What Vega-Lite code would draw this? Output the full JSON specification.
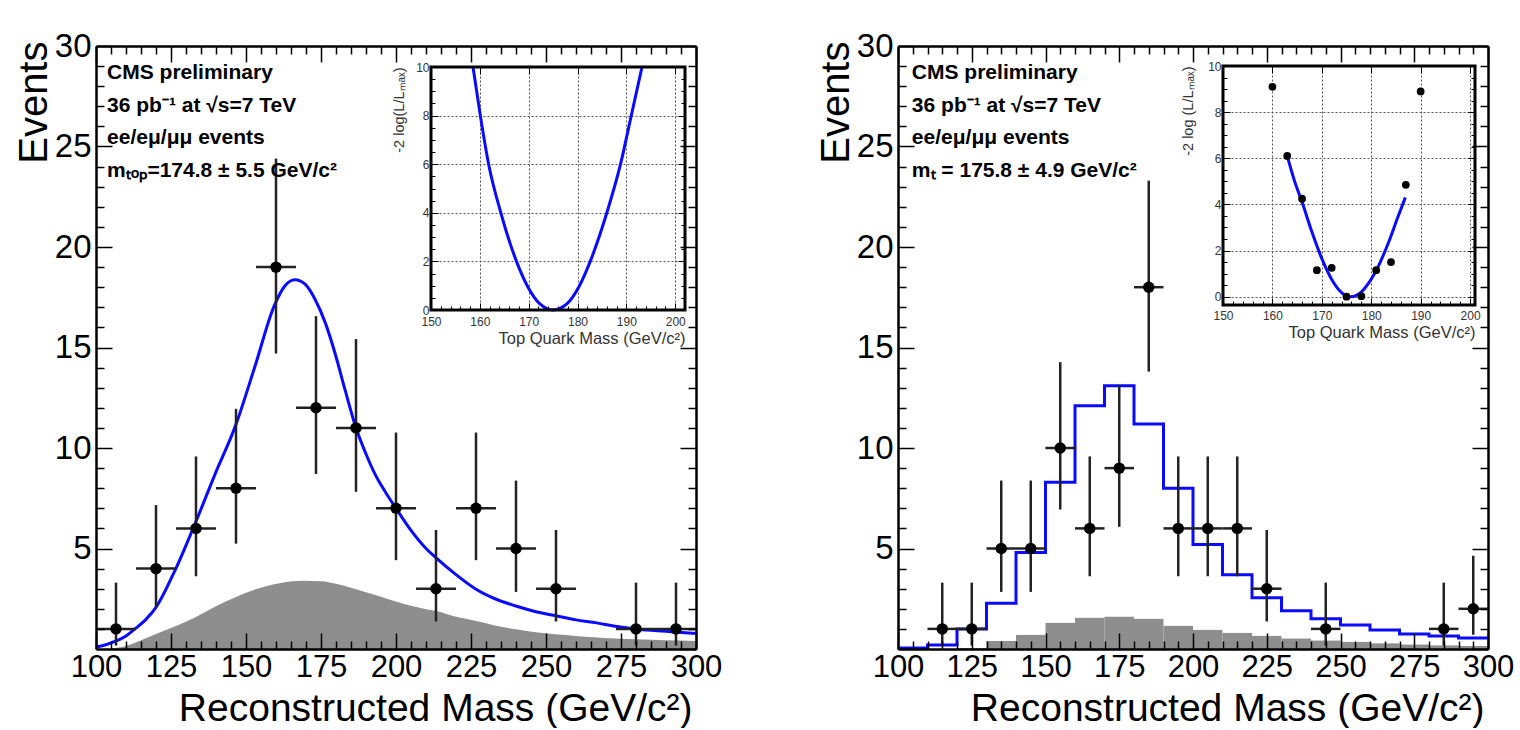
{
  "$schema": "https://vega.github.io/schema/vega-lite/v6.json",
  "background": "white",
  "padding": {"left": 14, "top": 30, "right": 5, "bottom": 0},
  "config": {
    "font": "Liberation Sans",
    "view": {"stroke": null},
    "axis": {
      "labelFont": "Liberation Sans",
      "labelColor": "black",
      "tickColor": "black",
      "domainColor": "black",
      "titleFont": "Liberation Sans",
      "titleFontWeight": "normal",
      "titleColor": "black",
      "grid": false,
      "labelOverlap": false,
      "labelFlush": false
    }
  },
  "datasets": {
    "ptsL": [
      {"m": 106.67, "x0": 100, "x1": 113.33, "n": 1, "lo": 0.17, "hi": 3.3},
      {"m": 120, "x0": 113.33, "x1": 126.67, "n": 4, "lo": 2.09, "hi": 7.16},
      {"m": 133.33, "x0": 126.67, "x1": 140, "n": 6, "lo": 3.62, "hi": 9.58},
      {"m": 146.67, "x0": 140, "x1": 153.33, "n": 8, "lo": 5.24, "hi": 11.95},
      {"m": 160, "x0": 153.33, "x1": 166.67, "n": 19, "lo": 14.7, "hi": 24.4},
      {"m": 173.33, "x0": 166.67, "x1": 180, "n": 12, "lo": 8.71, "hi": 16.56},
      {"m": 186.67, "x0": 180, "x1": 193.33, "n": 11, "lo": 7.82, "hi": 15.42},
      {"m": 200, "x0": 193.33, "x1": 206.67, "n": 7, "lo": 4.42, "hi": 10.77},
      {"m": 213.33, "x0": 206.67, "x1": 220, "n": 3, "lo": 1.37, "hi": 5.92},
      {"m": 226.67, "x0": 220, "x1": 233.33, "n": 7, "lo": 4.42, "hi": 10.77},
      {"m": 240, "x0": 233.33, "x1": 246.67, "n": 5, "lo": 2.84, "hi": 8.38},
      {"m": 253.33, "x0": 246.67, "x1": 260, "n": 3, "lo": 1.37, "hi": 5.92},
      {"m": 280, "x0": 273.33, "x1": 286.67, "n": 1, "lo": 0.17, "hi": 3.3},
      {"m": 293.33, "x0": 286.67, "x1": 300, "n": 1, "lo": 0.17, "hi": 3.3}
    ],
    "fitL": [
      {"m": 100, "v": 0.1}, {"m": 103, "v": 0.2}, {"m": 106.7, "v": 0.4}, {"m": 110, "v": 0.65},
      {"m": 113, "v": 1.0}, {"m": 116.5, "v": 1.45}, {"m": 120, "v": 2.07}, {"m": 126.3, "v": 3.9},
      {"m": 133.2, "v": 6.3}, {"m": 139.7, "v": 8.7}, {"m": 146.6, "v": 11.15}, {"m": 153, "v": 14.07},
      {"m": 159.4, "v": 17.07}, {"m": 163, "v": 18.07}, {"m": 166.3, "v": 18.37}, {"m": 169.7, "v": 18.15},
      {"m": 173, "v": 17.4}, {"m": 176.5, "v": 16.2}, {"m": 179.7, "v": 14.7}, {"m": 183, "v": 12.9},
      {"m": 186.6, "v": 11.03}, {"m": 190, "v": 9.7}, {"m": 193, "v": 8.7}, {"m": 196.5, "v": 7.8},
      {"m": 200, "v": 7.0}, {"m": 205, "v": 5.9}, {"m": 209.7, "v": 5.05}, {"m": 213.1, "v": 4.57},
      {"m": 220, "v": 3.7}, {"m": 226.4, "v": 3.0}, {"m": 233, "v": 2.5}, {"m": 239.7, "v": 2.15},
      {"m": 246, "v": 1.88}, {"m": 253.2, "v": 1.65}, {"m": 260, "v": 1.45}, {"m": 266.9, "v": 1.3},
      {"m": 273, "v": 1.13}, {"m": 279.7, "v": 1.0}, {"m": 286, "v": 0.92}, {"m": 292.8, "v": 0.85},
      {"m": 300, "v": 0.77}
    ],
    "bkgL": [
      {"m": 100, "v": 0}, {"m": 105, "v": 0.03}, {"m": 110, "v": 0.15}, {"m": 116, "v": 0.5},
      {"m": 120, "v": 0.75}, {"m": 125, "v": 1.05}, {"m": 133, "v": 1.57}, {"m": 141, "v": 2.2},
      {"m": 150, "v": 2.8}, {"m": 156, "v": 3.1}, {"m": 162, "v": 3.3}, {"m": 168.6, "v": 3.4},
      {"m": 175, "v": 3.37}, {"m": 180, "v": 3.25}, {"m": 185, "v": 3.05}, {"m": 190, "v": 2.82},
      {"m": 195, "v": 2.6}, {"m": 200, "v": 2.36}, {"m": 205, "v": 2.15}, {"m": 210, "v": 1.98},
      {"m": 213, "v": 1.9}, {"m": 220, "v": 1.6}, {"m": 226.4, "v": 1.4}, {"m": 233, "v": 1.17},
      {"m": 240, "v": 0.98}, {"m": 246, "v": 0.85}, {"m": 253, "v": 0.73}, {"m": 260, "v": 0.65},
      {"m": 266, "v": 0.58}, {"m": 273, "v": 0.52}, {"m": 280, "v": 0.48}, {"m": 290, "v": 0.43},
      {"m": 300, "v": 0.4}
    ],
    "likeL": [
      {"m": 158.6, "v": 10}, {"m": 160.1, "v": 8}, {"m": 161.8, "v": 6}, {"m": 164.3, "v": 4},
      {"m": 167.5, "v": 2}, {"m": 169.7, "v": 1}, {"m": 172.3, "v": 0.25}, {"m": 175, "v": 0},
      {"m": 177.8, "v": 0.25}, {"m": 180.4, "v": 1}, {"m": 182.6, "v": 2}, {"m": 186, "v": 4},
      {"m": 188.8, "v": 6}, {"m": 191, "v": 8}, {"m": 193.2, "v": 10}
    ],
    "ptsR": [
      {"m": 115, "x0": 110, "x1": 120, "n": 1, "lo": 0.17, "hi": 3.3},
      {"m": 125, "x0": 120, "x1": 130, "n": 1, "lo": 0.17, "hi": 3.3},
      {"m": 135, "x0": 130, "x1": 140, "n": 5, "lo": 2.84, "hi": 8.38},
      {"m": 145, "x0": 140, "x1": 150, "n": 5, "lo": 2.84, "hi": 8.38},
      {"m": 155, "x0": 150, "x1": 160, "n": 10, "lo": 6.94, "hi": 14.27},
      {"m": 165, "x0": 160, "x1": 170, "n": 6, "lo": 3.62, "hi": 9.58},
      {"m": 175, "x0": 170, "x1": 180, "n": 9, "lo": 6.08, "hi": 13.11},
      {"m": 185, "x0": 180, "x1": 190, "n": 18, "lo": 13.8, "hi": 23.3},
      {"m": 195, "x0": 190, "x1": 200, "n": 6, "lo": 3.62, "hi": 9.58},
      {"m": 205, "x0": 200, "x1": 210, "n": 6, "lo": 3.62, "hi": 9.58},
      {"m": 215, "x0": 210, "x1": 220, "n": 6, "lo": 3.62, "hi": 9.58},
      {"m": 225, "x0": 220, "x1": 230, "n": 3, "lo": 1.37, "hi": 5.92},
      {"m": 245, "x0": 240, "x1": 250, "n": 1, "lo": 0.17, "hi": 3.3},
      {"m": 285, "x0": 280, "x1": 290, "n": 1, "lo": 0.17, "hi": 3.3},
      {"m": 295, "x0": 290, "x1": 300, "n": 2, "lo": 0.71, "hi": 4.64}
    ],
    "mcR": [
      {"e": 100, "v": 0.05}, {"e": 110, "v": 0.2}, {"e": 120, "v": 1.0}, {"e": 130, "v": 2.27},
      {"e": 140, "v": 4.8}, {"e": 150, "v": 8.3}, {"e": 160, "v": 12.1}, {"e": 170, "v": 13.1},
      {"e": 180, "v": 11.2}, {"e": 190, "v": 8.0}, {"e": 200, "v": 5.2}, {"e": 210, "v": 3.7},
      {"e": 220, "v": 2.55}, {"e": 230, "v": 1.9}, {"e": 240, "v": 1.5}, {"e": 250, "v": 1.2},
      {"e": 260, "v": 0.95}, {"e": 270, "v": 0.75}, {"e": 280, "v": 0.65}, {"e": 290, "v": 0.55},
      {"e": 300, "v": 0.55}
    ],
    "bkgR": [
      {"lo": 120, "hi": 130, "v": 0.05}, {"lo": 130, "hi": 140, "v": 0.4}, {"lo": 140, "hi": 150, "v": 0.7},
      {"lo": 150, "hi": 160, "v": 1.3}, {"lo": 160, "hi": 170, "v": 1.55}, {"lo": 170, "hi": 180, "v": 1.6},
      {"lo": 180, "hi": 190, "v": 1.5}, {"lo": 190, "hi": 200, "v": 1.15}, {"lo": 200, "hi": 210, "v": 0.95},
      {"lo": 210, "hi": 220, "v": 0.8}, {"lo": 220, "hi": 230, "v": 0.65}, {"lo": 230, "hi": 240, "v": 0.52},
      {"lo": 240, "hi": 250, "v": 0.42}, {"lo": 250, "hi": 260, "v": 0.35}, {"lo": 260, "hi": 270, "v": 0.28},
      {"lo": 270, "hi": 280, "v": 0.22}, {"lo": 280, "hi": 290, "v": 0.18}, {"lo": 290, "hi": 300, "v": 0.15}
    ],
    "likeRpts": [
      {"m": 160, "v": 9.1}, {"m": 163, "v": 6.1}, {"m": 166, "v": 4.25}, {"m": 169, "v": 1.15},
      {"m": 172, "v": 1.25}, {"m": 175, "v": 0.0}, {"m": 178, "v": 0.02}, {"m": 181, "v": 1.15},
      {"m": 184, "v": 1.5}, {"m": 187, "v": 4.85}, {"m": 190, "v": 8.9}
    ],
    "likeRfit": [
      {"m": 163, "v": 6.1}, {"m": 164.5, "v": 5.0}, {"m": 166, "v": 4.1}, {"m": 168, "v": 2.8},
      {"m": 170, "v": 1.65}, {"m": 172, "v": 0.75}, {"m": 174, "v": 0.18}, {"m": 175.8, "v": 0},
      {"m": 177.5, "v": 0.12}, {"m": 179.5, "v": 0.6}, {"m": 181.5, "v": 1.35}, {"m": 183.5, "v": 2.35},
      {"m": 185.3, "v": 3.4}, {"m": 186.9, "v": 4.3}
    ]
  },
  "bounds": "flush",
  "spacing": 202,
  "hconcat": [
    {
      "width": 600,
      "height": 603,
      "resolve": {"scale": {"x": "independent", "y": "independent"}, "axis": {"x": "independent", "y": "independent"}},
      "layer": [
        {
          "data": {"name": "bkgL"},
          "mark": {"type": "area", "interpolate": "monotone", "color": "#8e8e8e"},
          "encoding": {
            "x": {"field": "m", "type": "quantitative", "scale": {"domain": [100, 300], "nice": false, "zero": false},
              "axis": {"orient": "bottom", "values": [100,125,150,175,200,225,250,275,300],
                "tickSize": -16, "tickWidth": 1.5, "domainWidth": 2.5, "zindex": 1,
                "labelFontSize": 31, "labelPadding": 19,
                "title": "Reconstructed Mass (GeV/c²)", "titleFontSize": 39,
                "titleAlign": "right", "titleBaseline": "alphabetic", "titleAnchor": "end",
                "titleX": 596, "titleY": 71}},
            "y": {"field": "v", "type": "quantitative", "scale": {"domain": [0, 30], "nice": false, "zero": false},
              "axis": {"orient": "left", "values": [5,10,15,20,25,30],
                "tickSize": -16, "tickWidth": 1.5, "domainWidth": 2.5, "zindex": 1,
                "labelFontSize": 33, "labelPadding": 21,
                "title": "Events", "titleFontSize": 40, "titleAngle": 270,
                "titleAlign": "right", "titleBaseline": "alphabetic", "titleAnchor": "end",
                "titleX": -50, "titleY": -5}}
          }
        },
        {
          "data": {"name": "fitL"},
          "mark": {"type": "line", "interpolate": "monotone", "color": "#0a0aff", "strokeWidth": 3},
          "encoding": {
            "x": {"field": "m", "type": "quantitative", "scale": {"domain": [100, 300], "nice": false, "zero": false}, "axis": null},
            "y": {"field": "v", "type": "quantitative", "scale": {"domain": [0, 30], "nice": false, "zero": false}, "axis": null}
          }
        },
        {
          "data": {"name": "ptsL"},
          "mark": {"type": "rule", "color": "#222222", "strokeWidth": 2.5},
          "encoding": {
            "x": {"field": "m", "type": "quantitative", "scale": {"domain": [100, 300], "nice": false, "zero": false}, "axis": null},
            "y": {"field": "lo", "type": "quantitative", "scale": {"domain": [0, 30], "nice": false, "zero": false}, "axis": null},
            "y2": {"field": "hi"}
          }
        },
        {
          "data": {"name": "ptsL"},
          "mark": {"type": "rule", "color": "#222222", "strokeWidth": 2.5},
          "encoding": {
            "x": {"field": "x0", "type": "quantitative", "scale": {"domain": [100, 300], "nice": false, "zero": false}, "axis": null},
            "x2": {"field": "x1"},
            "y": {"field": "n", "type": "quantitative", "scale": {"domain": [0, 30], "nice": false, "zero": false}, "axis": null}
          }
        },
        {
          "data": {"name": "ptsL"},
          "mark": {"type": "point", "shape": "circle", "filled": true, "color": "black", "size": 130, "opacity": 1},
          "encoding": {
            "x": {"field": "m", "type": "quantitative", "scale": {"domain": [100, 300], "nice": false, "zero": false}, "axis": null},
            "y": {"field": "n", "type": "quantitative", "scale": {"domain": [0, 30], "nice": false, "zero": false}, "axis": null}
          }
        },
        {
          "data": {"values": [{}]},
          "mark": {"type": "text", "align": "left", "baseline": "top", "fontSize": 21, "fontWeight": "bold", "lineHeight": 32.5, "color": "black", "font": "Liberation Sans"},
          "encoding": {
            "x": {"datum": 103.7, "type": "quantitative", "scale": {"domain": [100, 300], "nice": false, "zero": false}, "axis": null},
            "y": {"datum": 29.2, "type": "quantitative", "scale": {"domain": [0, 30], "nice": false, "zero": false}, "axis": null},
            "text": {"value": ["CMS preliminary", "36 pb⁻¹ at √s=7 TeV", "ee/eμ/μμ events", "mₜₒₚ=174.8 ± 5.5 GeV/c²"]}
          }
        },
        {
          "data": {"name": "ptsL"},
          "mark": {"type": "point", "opacity": 0},
          "encoding": {
            "x": {"field": "m", "type": "quantitative", "scale": {"domain": [100, 300], "nice": false, "zero": false},
              "axis": {"orient": "top", "values": [100,105,110,115,120,125,130,135,140,145,150,155,160,165,170,175,180,185,190,195,200,205,210,215,220,225,230,235,240,245,250,255,260,265,270,275,280,285,290,295,300],
                "tickSize": {"condition": {"test": "datum.value % 25 === 0", "value": -16}, "value": -8},
                "tickWidth": 1.5, "domainWidth": 2.5, "zindex": 1, "labels": false, "title": null}},
            "y": {"field": "n", "type": "quantitative", "scale": {"domain": [0, 30], "nice": false, "zero": false},
              "axis": {"orient": "right", "values": [0,1,2,3,4,5,6,7,8,9,10,11,12,13,14,15,16,17,18,19,20,21,22,23,24,25,26,27,28,29,30],
                "tickSize": {"condition": {"test": "datum.value % 5 === 0", "value": -16}, "value": -8},
                "tickWidth": 1.5, "domainWidth": 2.5, "zindex": 1, "labels": false, "title": null}}
          }
        },
        {
          "data": {"name": "ptsL"},
          "mark": {"type": "point", "opacity": 0},
          "encoding": {
            "x": {"field": "m", "type": "quantitative", "scale": {"domain": [100, 300], "nice": false, "zero": false},
              "axis": {"orient": "bottom", "values": [105,110,115,120,130,135,140,145,155,160,165,170,180,185,190,195,205,210,215,220,230,235,240,245,255,260,265,270,280,285,290,295],
                "tickSize": -8, "tickWidth": 1.5, "domain": false, "zindex": 1, "labels": false, "title": null}},
            "y": {"field": "n", "type": "quantitative", "scale": {"domain": [0, 30], "nice": false, "zero": false},
              "axis": {"orient": "left", "values": [1,2,3,4,6,7,8,9,11,12,13,14,16,17,18,19,21,22,23,24,26,27,28,29],
                "tickSize": -8, "tickWidth": 1.5, "domain": false, "zindex": 1, "labels": false, "title": null}}
          }
        },
        {
          "data": {"name": "likeL"},
          "mark": {"type": "point", "opacity": 0},
          "encoding": {
            "x": {"field": "m", "type": "quantitative", "scale": {"domain": [150, 202], "range": [335, 589], "nice": false, "zero": false},
              "axis": {"orient": "top", "offset": -21, "values": [150,160,170,180,190,200],
                "tickSize": -7, "tickWidth": 1, "domain": false, "labels": false, "title": null,
                "grid": true, "gridDash": [2, 2], "gridColor": "#555555", "gridWidth": 1}},
            "y": {"field": "v", "type": "quantitative", "scale": {"domain": [0, 10], "range": [264, 21], "nice": false, "zero": false},
              "axis": {"orient": "right", "offset": -11, "values": [0,0.5,1,1.5,2,2.5,3,3.5,4,4.5,5,5.5,6,6.5,7,7.5,8,8.5,9,9.5,10],
                "tickSize": {"condition": {"test": "datum.value % 2 === 0", "value": -7}, "value": -4},
                "tickWidth": 1, "domain": false, "labels": false, "title": null}}
          }
        },
        {
          "data": {"name": "likeL"},
          "mark": {"type": "point", "opacity": 0},
          "encoding": {
            "x": {"field": "m", "type": "quantitative", "scale": {"domain": [150, 202], "range": [335, 589], "nice": false, "zero": false},
              "axis": {"orient": "bottom", "offset": -339, "values": [152,154,156,158,162,164,166,168,172,174,176,178,182,184,186,188,192,194,196,198,202],
                "tickSize": -4, "tickWidth": 1, "domain": false, "labels": false, "title": null}},
            "y": {"field": "v", "type": "quantitative", "scale": {"domain": [0, 10], "range": [264, 21], "nice": false, "zero": false},
              "axis": {"orient": "left", "offset": -335, "values": [0.5,1,1.5,2.5,3,3.5,4.5,5,5.5,6.5,7,7.5,8.5,9,9.5],
                "tickSize": -4, "tickWidth": 1, "domain": false, "labels": false, "title": null}}
          }
        },
        {
          "data": {"name": "likeL"},
          "mark": {"type": "line", "interpolate": "monotone", "color": "#0a0aff", "strokeWidth": 3},
          "encoding": {
            "x": {"field": "m", "type": "quantitative", "scale": {"domain": [150, 202], "range": [335, 589], "nice": false, "zero": false},
              "axis": {"orient": "bottom", "offset": -339, "values": [150,160,170,180,190,200],
                "tickSize": -7, "tickWidth": 1, "domain": false,
                "labelFontSize": 12, "labelPadding": 13, "labelColor": "#333333",
                "title": "Top Quark Mass (GeV/c²)", "titleFontSize": 16.5, "titleColor": "#333333",
                "titleAnchor": "end", "titleAlign": "right", "titlePadding": 3}},
            "y": {"field": "v", "type": "quantitative", "scale": {"domain": [0, 10], "range": [264, 21], "nice": false, "zero": false},
              "axis": {"orient": "left", "offset": -335, "values": [0,2,4,6,8,10],
                "tickSize": -7, "tickWidth": 1, "domain": false,
                "labelFontSize": 12, "labelPadding": 9, "labelColor": "#333333",
                "grid": true, "gridDash": [2, 2], "gridColor": "#555555", "gridWidth": 1,
                "title": "-2 log(L/Lₘₐₓ)", "titleFontSize": 14.5, "titleColor": "#333333",
                "titleAnchor": "end", "titlePadding": 9}}
          }
        },
        {
          "data": {"values": [{}]},
          "mark": {"type": "rect", "fill": null, "stroke": "black", "strokeWidth": 3},
          "encoding": {
            "x": {"datum": 150, "type": "quantitative", "scale": {"domain": [150, 202], "range": [335, 589], "nice": false, "zero": false}, "axis": null},
            "x2": {"datum": 202},
            "y": {"datum": 0, "type": "quantitative", "scale": {"domain": [0, 10], "range": [264, 21], "nice": false, "zero": false}, "axis": null},
            "y2": {"datum": 10}
          }
        }
      ]
    },
    {
      "width": 590,
      "height": 603,
      "resolve": {"scale": {"x": "independent", "y": "independent"}, "axis": {"x": "independent", "y": "independent"}},
      "layer": [
        {
          "data": {"name": "bkgR"},
          "mark": {"type": "bar", "color": "#8e8e8e"},
          "encoding": {
            "x": {"field": "lo", "type": "quantitative", "scale": {"domain": [100, 300], "nice": false, "zero": false},
              "axis": {"orient": "bottom", "values": [100,125,150,175,200,225,250,275,300],
                "tickSize": -16, "tickWidth": 1.5, "domainWidth": 2.5, "zindex": 1,
                "labelFontSize": 31, "labelPadding": 19,
                "title": "Reconstructed Mass (GeV/c²)", "titleFontSize": 39,
                "titleAlign": "right", "titleBaseline": "alphabetic", "titleAnchor": "end",
                "titleX": 586, "titleY": 71}},
            "x2": {"field": "hi"},
            "y": {"field": "v", "type": "quantitative", "scale": {"domain": [0, 30], "nice": false, "zero": false},
              "axis": {"orient": "left", "values": [5,10,15,20,25,30],
                "tickSize": -16, "tickWidth": 1.5, "domainWidth": 2.5, "zindex": 1,
                "labelFontSize": 33, "labelPadding": 21,
                "title": "Events", "titleFontSize": 40, "titleAngle": 270,
                "titleAlign": "right", "titleBaseline": "alphabetic", "titleAnchor": "end",
                "titleX": -50, "titleY": -5}},
            "y2": {"datum": 0}
          }
        },
        {
          "data": {"name": "mcR"},
          "mark": {"type": "line", "interpolate": "step-after", "color": "#0a0aff", "strokeWidth": 3},
          "encoding": {
            "x": {"field": "e", "type": "quantitative", "scale": {"domain": [100, 300], "nice": false, "zero": false}, "axis": null},
            "y": {"field": "v", "type": "quantitative", "scale": {"domain": [0, 30], "nice": false, "zero": false}, "axis": null}
          }
        },
        {
          "data": {"name": "ptsR"},
          "mark": {"type": "rule", "color": "#222222", "strokeWidth": 2.5},
          "encoding": {
            "x": {"field": "m", "type": "quantitative", "scale": {"domain": [100, 300], "nice": false, "zero": false}, "axis": null},
            "y": {"field": "lo", "type": "quantitative", "scale": {"domain": [0, 30], "nice": false, "zero": false}, "axis": null},
            "y2": {"field": "hi"}
          }
        },
        {
          "data": {"name": "ptsR"},
          "mark": {"type": "rule", "color": "#222222", "strokeWidth": 2.5},
          "encoding": {
            "x": {"field": "x0", "type": "quantitative", "scale": {"domain": [100, 300], "nice": false, "zero": false}, "axis": null},
            "x2": {"field": "x1"},
            "y": {"field": "n", "type": "quantitative", "scale": {"domain": [0, 30], "nice": false, "zero": false}, "axis": null}
          }
        },
        {
          "data": {"name": "ptsR"},
          "mark": {"type": "point", "shape": "circle", "filled": true, "color": "black", "size": 130, "opacity": 1},
          "encoding": {
            "x": {"field": "m", "type": "quantitative", "scale": {"domain": [100, 300], "nice": false, "zero": false}, "axis": null},
            "y": {"field": "n", "type": "quantitative", "scale": {"domain": [0, 30], "nice": false, "zero": false}, "axis": null}
          }
        },
        {
          "data": {"values": [{}]},
          "mark": {"type": "text", "align": "left", "baseline": "top", "fontSize": 21, "fontWeight": "bold", "lineHeight": 32.5, "color": "black", "font": "Liberation Sans"},
          "encoding": {
            "x": {"datum": 104.7, "type": "quantitative", "scale": {"domain": [100, 300], "nice": false, "zero": false}, "axis": null},
            "y": {"datum": 29.2, "type": "quantitative", "scale": {"domain": [0, 30], "nice": false, "zero": false}, "axis": null},
            "text": {"value": ["CMS preliminary", "36 pb⁻¹ at √s=7 TeV", "ee/eμ/μμ events", "mₜ =  175.8 ± 4.9 GeV/c²"]}
          }
        },
        {
          "data": {"name": "ptsR"},
          "mark": {"type": "point", "opacity": 0},
          "encoding": {
            "x": {"field": "m", "type": "quantitative", "scale": {"domain": [100, 300], "nice": false, "zero": false},
              "axis": {"orient": "top", "values": [100,105,110,115,120,125,130,135,140,145,150,155,160,165,170,175,180,185,190,195,200,205,210,215,220,225,230,235,240,245,250,255,260,265,270,275,280,285,290,295,300],
                "tickSize": {"condition": {"test": "datum.value % 25 === 0", "value": -16}, "value": -8},
                "tickWidth": 1.5, "domainWidth": 2.5, "zindex": 1, "labels": false, "title": null}},
            "y": {"field": "n", "type": "quantitative", "scale": {"domain": [0, 30], "nice": false, "zero": false},
              "axis": {"orient": "right", "values": [0,1,2,3,4,5,6,7,8,9,10,11,12,13,14,15,16,17,18,19,20,21,22,23,24,25,26,27,28,29,30],
                "tickSize": {"condition": {"test": "datum.value % 5 === 0", "value": -16}, "value": -8},
                "tickWidth": 1.5, "domainWidth": 2.5, "zindex": 1, "labels": false, "title": null}}
          }
        },
        {
          "data": {"name": "ptsR"},
          "mark": {"type": "point", "opacity": 0},
          "encoding": {
            "x": {"field": "m", "type": "quantitative", "scale": {"domain": [100, 300], "nice": false, "zero": false},
              "axis": {"orient": "bottom", "values": [105,110,115,120,130,135,140,145,155,160,165,170,180,185,190,195,205,210,215,220,230,235,240,245,255,260,265,270,280,285,290,295],
                "tickSize": -8, "tickWidth": 1.5, "domain": false, "zindex": 1, "labels": false, "title": null}},
            "y": {"field": "n", "type": "quantitative", "scale": {"domain": [0, 30], "nice": false, "zero": false},
              "axis": {"orient": "left", "values": [1,2,3,4,6,7,8,9,11,12,13,14,16,17,18,19,21,22,23,24,26,27,28,29],
                "tickSize": -8, "tickWidth": 1.5, "domain": false, "zindex": 1, "labels": false, "title": null}}
          }
        },
        {
          "data": {"name": "likeRpts"},
          "mark": {"type": "point", "opacity": 0},
          "encoding": {
            "x": {"field": "m", "type": "quantitative", "scale": {"domain": [150, 201], "range": [325, 577], "nice": false, "zero": false},
              "axis": {"orient": "top", "offset": -20, "values": [150,160,170,180,190,200],
                "tickSize": -7, "tickWidth": 1, "domain": false, "labels": false, "title": null,
                "grid": true, "gridDash": [2, 2], "gridColor": "#555555", "gridWidth": 1}},
            "y": {"field": "v", "type": "quantitative", "scale": {"domain": [-0.36, 10], "range": [259, 20], "nice": false, "zero": false},
              "axis": {"orient": "right", "offset": -13, "values": [0,0.5,1,1.5,2,2.5,3,3.5,4,4.5,5,5.5,6,6.5,7,7.5,8,8.5,9,9.5,10],
                "tickSize": {"condition": {"test": "datum.value % 2 === 0", "value": -7}, "value": -4},
                "tickWidth": 1, "domain": false, "labels": false, "title": null}}
          }
        },
        {
          "data": {"name": "likeRpts"},
          "mark": {"type": "point", "opacity": 0},
          "encoding": {
            "x": {"field": "m", "type": "quantitative", "scale": {"domain": [150, 201], "range": [325, 577], "nice": false, "zero": false},
              "axis": {"orient": "bottom", "offset": -344, "values": [152,154,156,158,162,164,166,168,172,174,176,178,182,184,186,188,192,194,196,198],
                "tickSize": -4, "tickWidth": 1, "domain": false, "labels": false, "title": null}},
            "y": {"field": "v", "type": "quantitative", "scale": {"domain": [-0.36, 10], "range": [259, 20], "nice": false, "zero": false},
              "axis": {"orient": "left", "offset": -325, "values": [0.5,1,1.5,2.5,3,3.5,4.5,5,5.5,6.5,7,7.5,8.5,9,9.5],
                "tickSize": -4, "tickWidth": 1, "domain": false, "labels": false, "title": null}}
          }
        },
        {
          "data": {"name": "likeRfit"},
          "mark": {"type": "line", "interpolate": "monotone", "color": "#0a0aff", "strokeWidth": 3},
          "encoding": {
            "x": {"field": "m", "type": "quantitative", "scale": {"domain": [150, 201], "range": [325, 577], "nice": false, "zero": false},
              "axis": {"orient": "bottom", "offset": -344, "values": [150,160,170,180,190,200],
                "tickSize": -7, "tickWidth": 1, "domain": false,
                "labelFontSize": 12, "labelPadding": 12, "labelColor": "#333333",
                "title": "Top Quark Mass (GeV/c²)", "titleFontSize": 16.5, "titleColor": "#333333",
                "titleAnchor": "end", "titleAlign": "right", "titlePadding": 3}},
            "y": {"field": "v", "type": "quantitative", "scale": {"domain": [-0.36, 10], "range": [259, 20], "nice": false, "zero": false},
              "axis": {"orient": "left", "offset": -325, "values": [0,2,4,6,8,10],
                "tickSize": -7, "tickWidth": 1, "domain": false,
                "labelFontSize": 12, "labelPadding": 9, "labelColor": "#333333",
                "grid": true, "gridDash": [2, 2], "gridColor": "#555555", "gridWidth": 1,
                "title": "-2 log (L/Lₘₐₓ)", "titleFontSize": 14.5, "titleColor": "#333333",
                "titleAnchor": "end", "titlePadding": 12}}
          }
        },
        {
          "data": {"name": "likeRpts"},
          "mark": {"type": "point", "shape": "circle", "filled": true, "color": "black", "size": 60, "opacity": 1},
          "encoding": {
            "x": {"field": "m", "type": "quantitative", "scale": {"domain": [150, 201], "range": [325, 577], "nice": false, "zero": false}, "axis": null},
            "y": {"field": "v", "type": "quantitative", "scale": {"domain": [-0.36, 10], "range": [259, 20], "nice": false, "zero": false}, "axis": null}
          }
        },
        {
          "data": {"values": [{}]},
          "mark": {"type": "rect", "fill": null, "stroke": "black", "strokeWidth": 3},
          "encoding": {
            "x": {"datum": 150, "type": "quantitative", "scale": {"domain": [150, 201], "range": [325, 577], "nice": false, "zero": false}, "axis": null},
            "x2": {"datum": 201},
            "y": {"datum": -0.36, "type": "quantitative", "scale": {"domain": [-0.36, 10], "range": [259, 20], "nice": false, "zero": false}, "axis": null},
            "y2": {"datum": 10}
          }
        }
      ]
    }
  ]
}
